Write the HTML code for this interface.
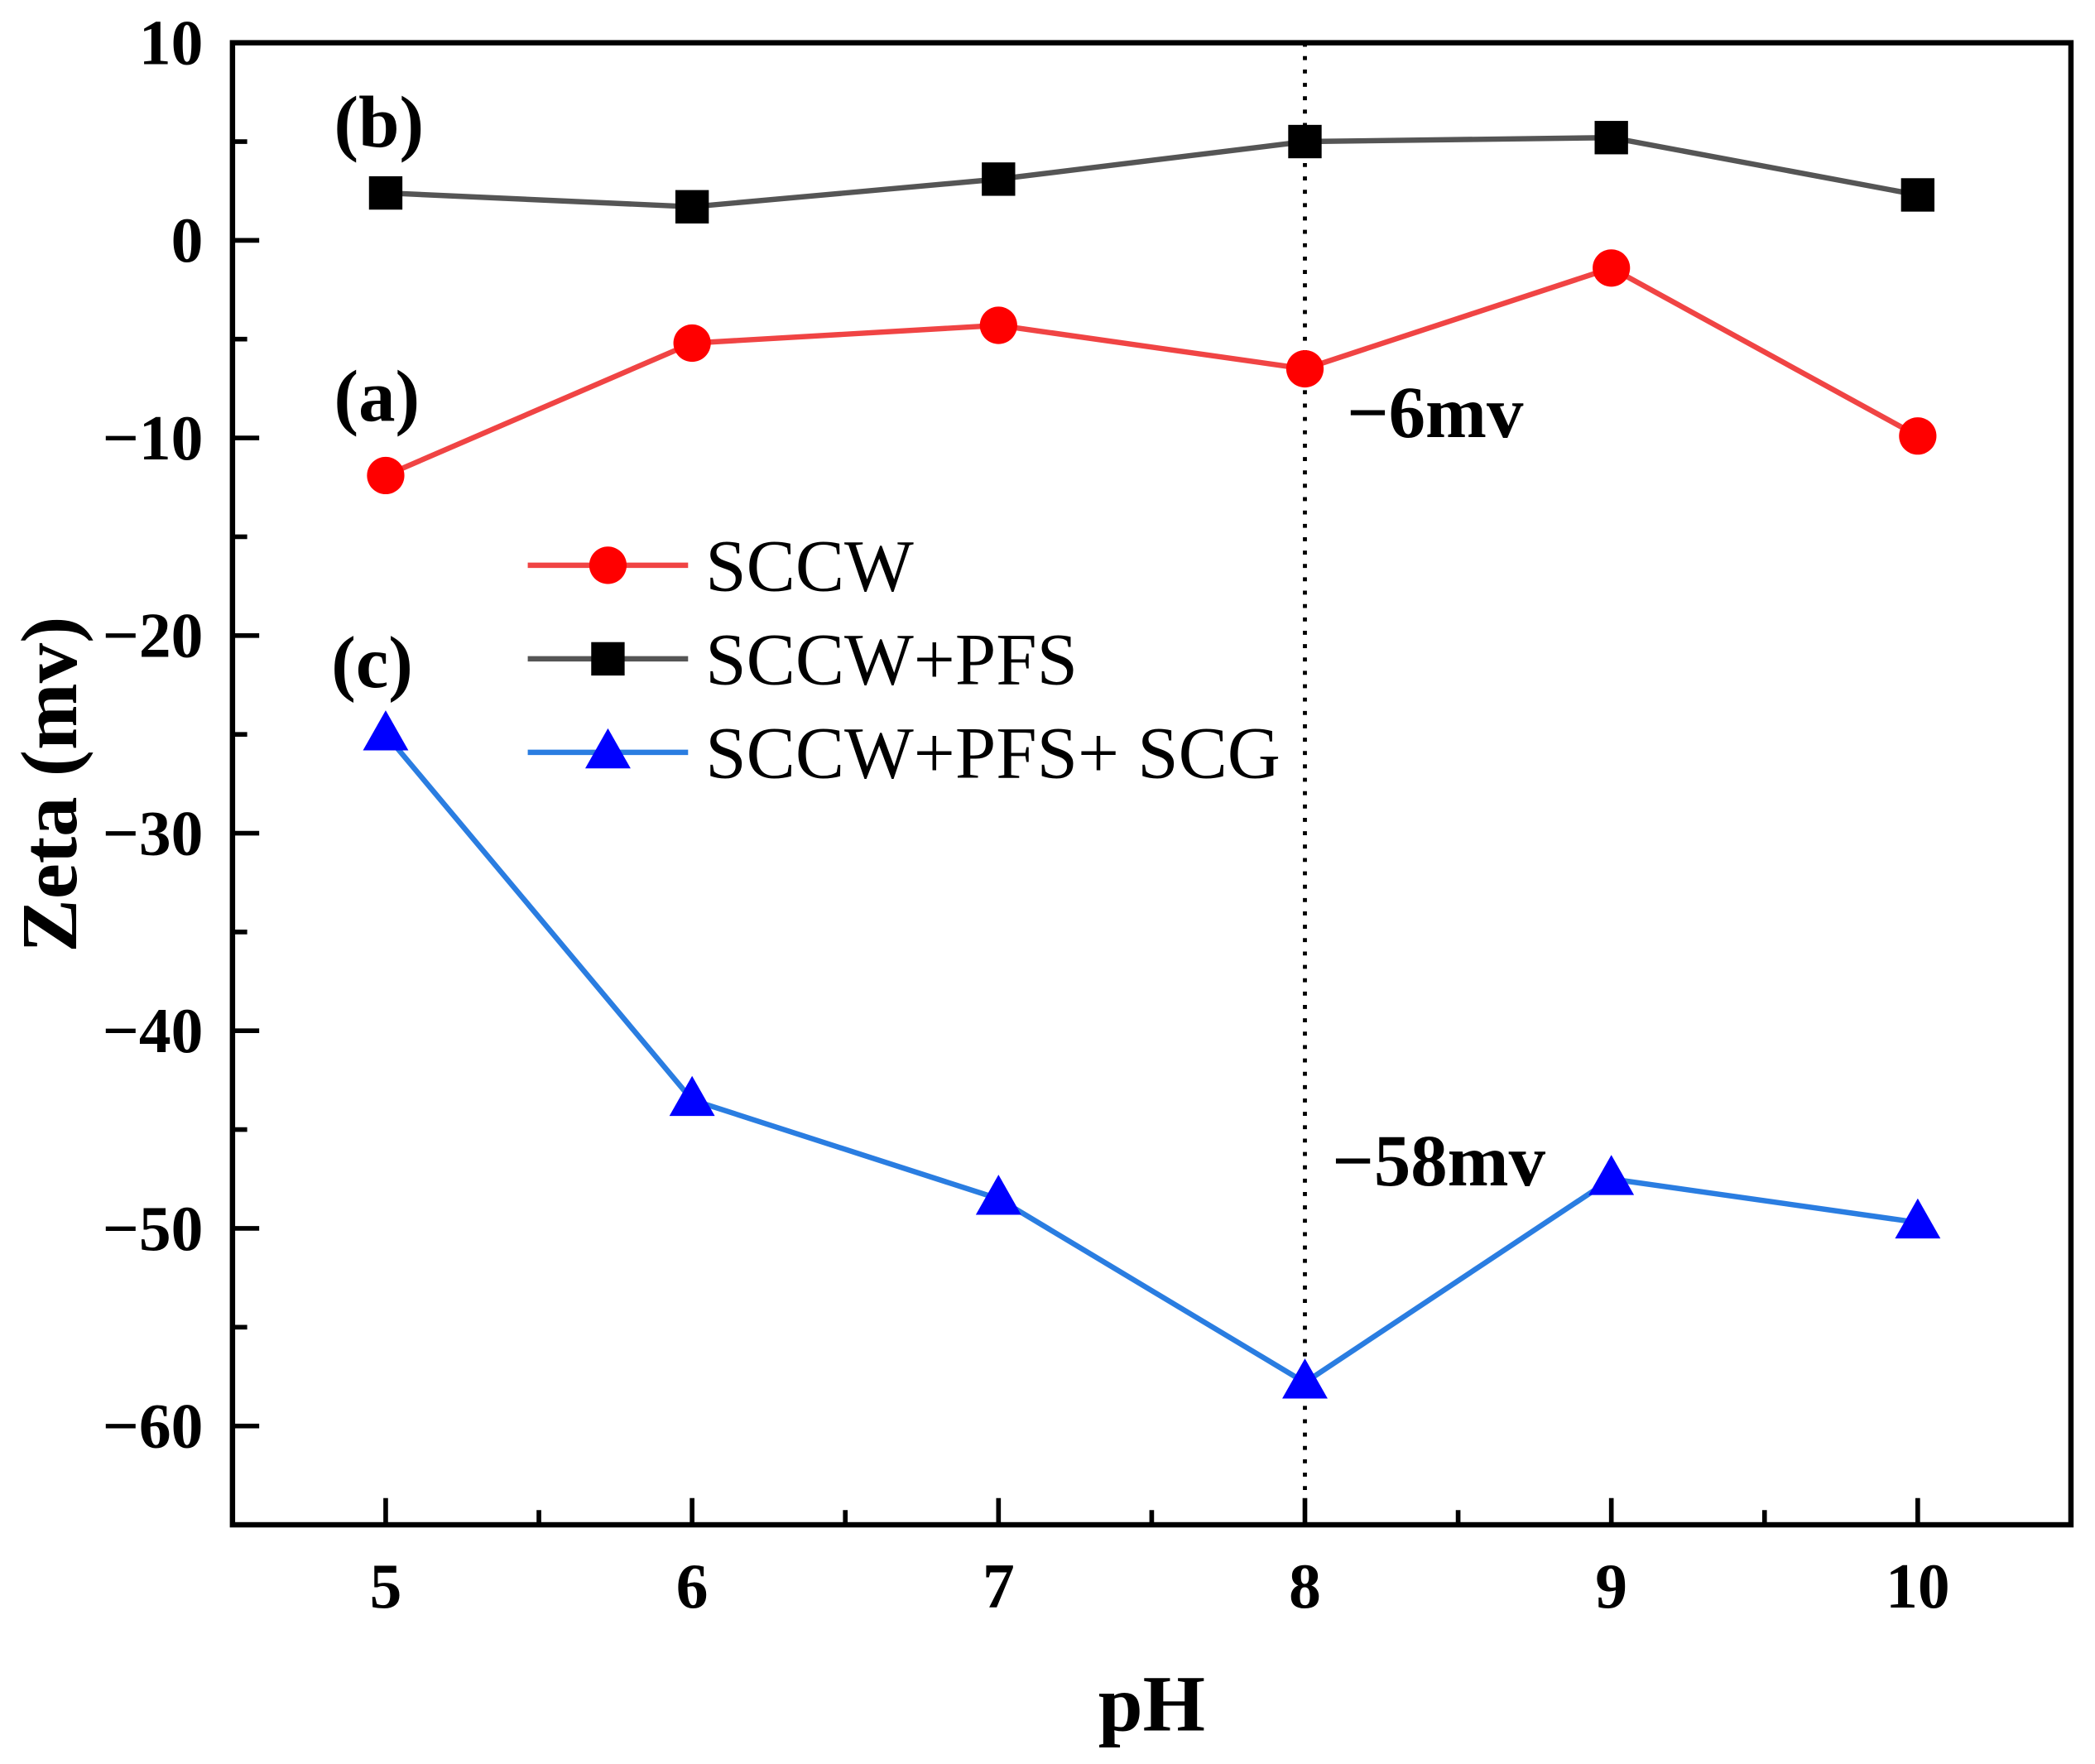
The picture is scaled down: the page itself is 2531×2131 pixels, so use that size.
<!DOCTYPE html>
<html><head><meta charset="utf-8"><style>
html,body{margin:0;padding:0;background:#fff;}
svg{display:block;}
svg text{font-family:"Liberation Serif","Times New Roman",Times,serif;}
</style></head><body>
<svg id="chart" width="2531" height="2131" viewBox="0 0 1568 1320" preserveAspectRatio="none" xmlns="http://www.w3.org/2000/svg" font-family="Liberation Serif, Times New Roman, serif">
<g id="plot"></g>
</svg>
<script>
const phValues = [5, 6, 7, 8, 9, 10];
const sccw = [-11.9, -5.2, -4.3, -6.5, -1.4, -9.9];
const sccwPfs = [2.4, 1.7, 3.1, 5.0, 5.2, 2.3];
const sccwPfsScg = [-25.0, -43.5, -48.5, -57.8, -47.5, -49.7];
const yTicks = [10, 0, -10, -20, -30, -40, -50, -60];
const xTicks = [5, 6, 7, 8, 9, 10];

const L=174, R=1550, T=32, B=1141;
const xMin=4.5, xMax=10.5, yMin=-65, yMax=10;
const xs = v => L + (v-xMin)/(xMax-xMin)*(R-L);
const ys = v => B - (v-yMin)/(yMax-yMin)*(B-T);
const NS="http://www.w3.org/2000/svg";
const g=document.getElementById('plot');
function el(tag, attrs, parent){const e=document.createElementNS(NS,tag);for(const k in attrs)e.setAttribute(k,attrs[k]);(parent||g).appendChild(e);return e;}
const FF='Liberation Serif, Times New Roman, serif';

let dl=el('line',{x1:xs(8),x2:xs(8),y1:T,y2:B,stroke:'#000','stroke-width':3,'stroke-dasharray':'3 7'});



for(let v=-65; v<=10; v+=5){
  const major = v%10===0;
  const t=el('line',{x1:L,x2:L+(major?20:11),y1:ys(v),y2:ys(v),stroke:'#000','stroke-width':3.5});
  
  
}
yTicks.forEach(v=>{
  const t=el('text',{x:L-22,y:ys(v)+16,'text-anchor':'end','font-size':48,'font-weight':'bold','font-family':FF});
  t.textContent = v<0 ? '\u2212'+Math.abs(v) : String(v);
  
  
});
for(let v=5; v<=10.5; v+=0.5){
  const major = Number.isInteger(v);
  const t=el('line',{x1:xs(v),x2:xs(v),y1:B,y2:B-(major?20:11),stroke:'#000','stroke-width':3.5});
  
  
}
xTicks.forEach(v=>{
  const t=el('text',{x:xs(v),y:1203,'text-anchor':'middle','font-size':48,'font-weight':'bold','font-family':FF});
  t.textContent=String(v);
  
  
});

let fr=el('rect',{x:L,y:T,width:R-L,height:B-T,fill:'none',stroke:'#000','stroke-width':4});



let xt=el('text',{x:862,y:1295,'text-anchor':'middle','font-size':60,'font-weight':'bold','font-family':FF});
xt.textContent='pH';


let yt=el('text',{x:0,y:0,'text-anchor':'middle','font-size':60,'font-weight':'bold','font-family':FF,transform:'translate(57,587) rotate(-90)'});
yt.textContent='Zeta (mv)';



function marker(kind,cx,cy,color,name){
  let m;
  if(kind==='circle') m=el('circle',{cx:cx,cy:cy,r:14,fill:color});
  else if(kind==='square') m=el('rect',{x:cx-12.5,y:cy-12.5,width:25,height:25,fill:color});
  else m=el('polygon',{points:`${cx},${cy-18} ${cx-17},${cy+12} ${cx+17},${cy+12}`,fill:color});
  
  
}
function series(vals,lineColor,mk,mColor,name){
  const pts=vals.map((v,i)=>xs(phValues[i])+','+ys(v)).join(' ');
  const pl=el('polyline',{points:pts,fill:'none',stroke:lineColor,'stroke-width':4});
  
  
  vals.forEach((v,i)=>marker(mk,xs(phValues[i]),ys(v),mColor,name+'-point'));
}
series(sccwPfs,'#555','square','#000','sccw-pfs');
series(sccw,'#f04444','circle','#ff0000','sccw');
series(sccwPfsScg,'#2a7de1','triangle','#0000ff','sccw-pfs-scg');

const legend=[['SCCW','#f04444','circle','#ff0000',423],['SCCW+PFS','#555','square','#000',493],['SCCW+PFS+ SCG','#2a7de1','triangle','#0000ff',563]];
legend.forEach(([lab,lc,mk,mc,y])=>{
  const ln=el('line',{x1:395,x2:515,y1:y,y2:y,stroke:lc,'stroke-width':4});
  
  
  marker(mk,455,y,mc,'legend-marker');
  const t=el('text',{x:528,y:y+19,'font-size':55,'font-family':FF});
  t.textContent=lab;
  
  
});

[['(b)',250,110],['(a)',250,315],['(c)',248,514],['\u22126mv',1008,327],['\u221258mv',997,887]].forEach(([s,x,y])=>{
  const t=el('text',{x:x,y:y,'font-size':55,'font-weight':'bold','font-family':FF});
  t.textContent=s;
  
  
});
</script>
</body></html>
